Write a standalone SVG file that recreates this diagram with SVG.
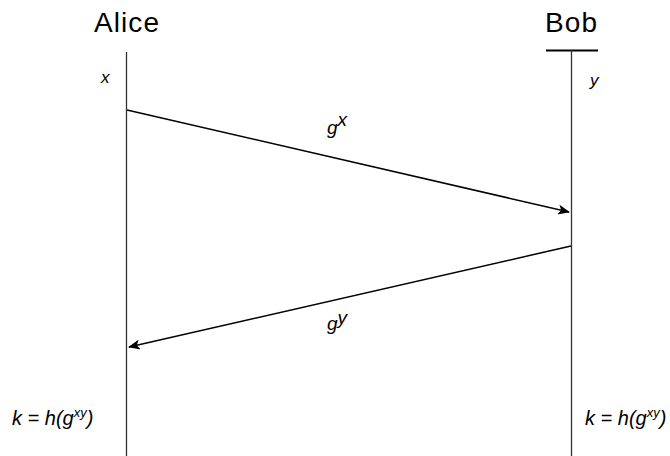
<svg xmlns="http://www.w3.org/2000/svg" width="670" height="456" viewBox="0 0 670 456">
<style>
text{font-family:"Liberation Sans",Arial,sans-serif;fill:#000}
.t{font-size:28px}
.i{font-size:17px;font-style:italic}
.k{font-size:20px;font-style:italic}
.g{font-size:19px;font-style:italic}
.l{stroke:#333;stroke-width:1.3;fill:none}
.a{stroke:#000;stroke-width:1.5;fill:none;marker-end:url(#ah)}
</style>
<defs>
<marker id="ah" markerWidth="12" markerHeight="10" refX="11" refY="5" orient="auto" markerUnits="userSpaceOnUse">
<path d="M0,0 L12,5 L0,10 L3,5 Z" fill="#000"/>
</marker>
</defs>
<rect width="670" height="456" fill="#fff"/>
<g id="alice">
<text class="t" x="94" y="32" textLength="65" lengthAdjust="spacing">Alice</text>
<line class="l" x1="126.5" y1="52" x2="126.5" y2="456"/>
<text class="i" x="101" y="83">x</text>
<text class="k" x="12" y="425">k = h(g<tspan font-size="13" dy="-8">xy</tspan><tspan dy="8">)</tspan></text>
</g>
<g id="bob">
<text class="t" x="545" y="32" textLength="52" lengthAdjust="spacing">Bob</text>
<line stroke="#000" stroke-width="1.8" x1="546" y1="50.5" x2="598" y2="50.5"/>
<line class="l" x1="571.5" y1="50" x2="571.5" y2="456"/>
<text class="i" x="590" y="86">y</text>
<text class="k" x="585" y="425">k = h(g<tspan font-size="13" dy="-8">xy</tspan><tspan dy="8">)</tspan></text>
</g>
<g id="connectors">
<line class="a" x1="127" y1="110" x2="569" y2="212"/>
<text class="g" x="327" y="134">g<tspan dy="-8">x</tspan></text>
<line class="a" x1="571" y1="246" x2="129" y2="347"/>
<text class="g" x="327" y="330">g<tspan dy="-6">y</tspan></text>
</g>
</svg>
